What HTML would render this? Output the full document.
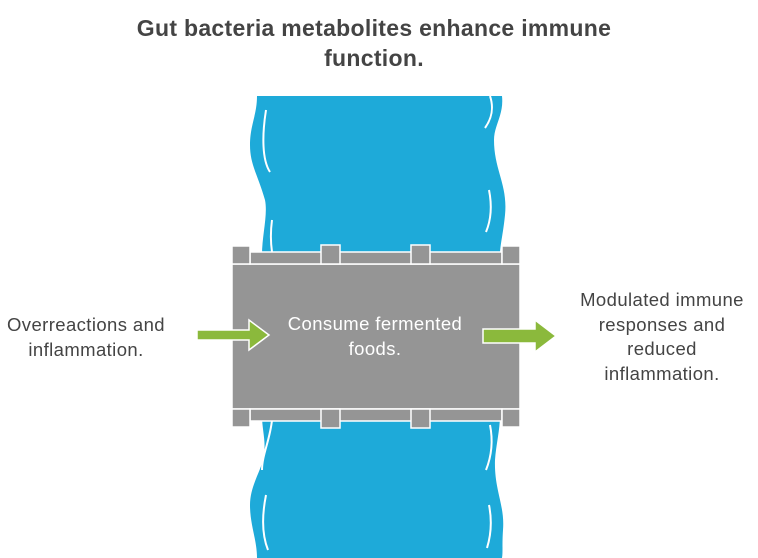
<!DOCTYPE html>
<html><head><style>
body{margin:0;background:#fff;width:758px;height:558px;overflow:hidden;font-family:"Liberation Sans",Arial,sans-serif}
</style></head><body>
<svg width="758" height="558" xmlns="http://www.w3.org/2000/svg" style="position:absolute;left:0;top:0">
<text x="374" y="36" text-anchor="middle" font-size="23" letter-spacing="0.3" font-weight="bold" fill="#444" font-family="Liberation Sans,Arial,sans-serif">Gut bacteria metabolites enhance immune</text>
<text x="374" y="66" text-anchor="middle" font-size="23" letter-spacing="0.3" font-weight="bold" fill="#444" font-family="Liberation Sans,Arial,sans-serif">function.</text>
<!-- river top -->
<path d="M257 96 L502 96 C504 115 494 125 494 140 C494 170 508 185 505 215 C503 235 500 245 500 255 L262 255 C262 235 268 215 265 200 C258 175 250 165 250 145 C250 125 257 115 257 96Z" fill="#1eaad9"/>
<path d="M266 110 C262 135 262 160 270 172" stroke="#fff" stroke-width="2" fill="none"/>
<path d="M272 220 C270 235 271 245 272 252" stroke="#fff" stroke-width="2" fill="none"/>
<path d="M490 96 C494 108 492 118 485 128" stroke="#fff" stroke-width="2" fill="none"/>
<path d="M489 190 C492 205 491 220 486 232" stroke="#fff" stroke-width="2" fill="none"/>
<!-- river bottom -->
<path d="M262 415 L500 415 C500 430 496 445 495 460 C494 490 505 505 503 530 C502 545 503 552 502 558 L257 558 C257 540 250 525 250 505 C250 485 262 470 264 455 C266 440 262 430 262 415Z" fill="#1eaad9"/>
<path d="M272 420 C270 440 262 455 262 470" stroke="#fff" stroke-width="2" fill="none"/>
<path d="M266 495 C262 515 262 535 268 550" stroke="#fff" stroke-width="2" fill="none"/>
<path d="M490 425 C493 440 492 455 486 470" stroke="#fff" stroke-width="2" fill="none"/>
<path d="M489 505 C492 520 491 535 487 548" stroke="#fff" stroke-width="2" fill="none"/>
<!-- box -->
<g fill="#959595" stroke="#fff" stroke-width="1.5">
<rect x="232" y="264" width="288" height="145"/>
<rect x="250" y="252" width="252" height="12"/>
<rect x="250" y="409" width="252" height="12"/>
<rect x="232" y="246" width="18" height="18"/><rect x="321" y="245" width="19" height="19"/><rect x="411" y="245" width="19" height="19"/><rect x="502" y="246" width="18" height="18"/>
<rect x="232" y="409" width="18" height="18"/><rect x="321" y="409" width="19" height="19"/><rect x="411" y="409" width="19" height="19"/><rect x="502" y="409" width="18" height="18"/>
</g>
<g fill="#8bb93c" stroke="#fff" stroke-width="1.5">
<path d="M197 330 L249 330 L249 320 L269 335 L249 350 L249 340 L197 340Z"/>
<path d="M483 329 L535 329 L535 320 L556 336 L535 352 L535 343 L483 343Z"/>
</g>
<g font-family="Liberation Sans,Arial,sans-serif" font-size="18.5" letter-spacing="0.4" fill="#fff" text-anchor="middle">
<text x="375" y="330">Consume fermented</text><text x="375" y="355">foods.</text>
</g>
<g font-family="Liberation Sans,Arial,sans-serif" font-size="18.5" letter-spacing="0.4" fill="#444" text-anchor="middle">
<text x="86" y="331">Overreactions and</text><text x="86" y="356">inflammation.</text>
<text x="662" y="306">Modulated immune</text><text x="662" y="331">responses and</text><text x="662" y="355">reduced</text><text x="662" y="380">inflammation.</text>
</g>
</svg>
</body></html>
